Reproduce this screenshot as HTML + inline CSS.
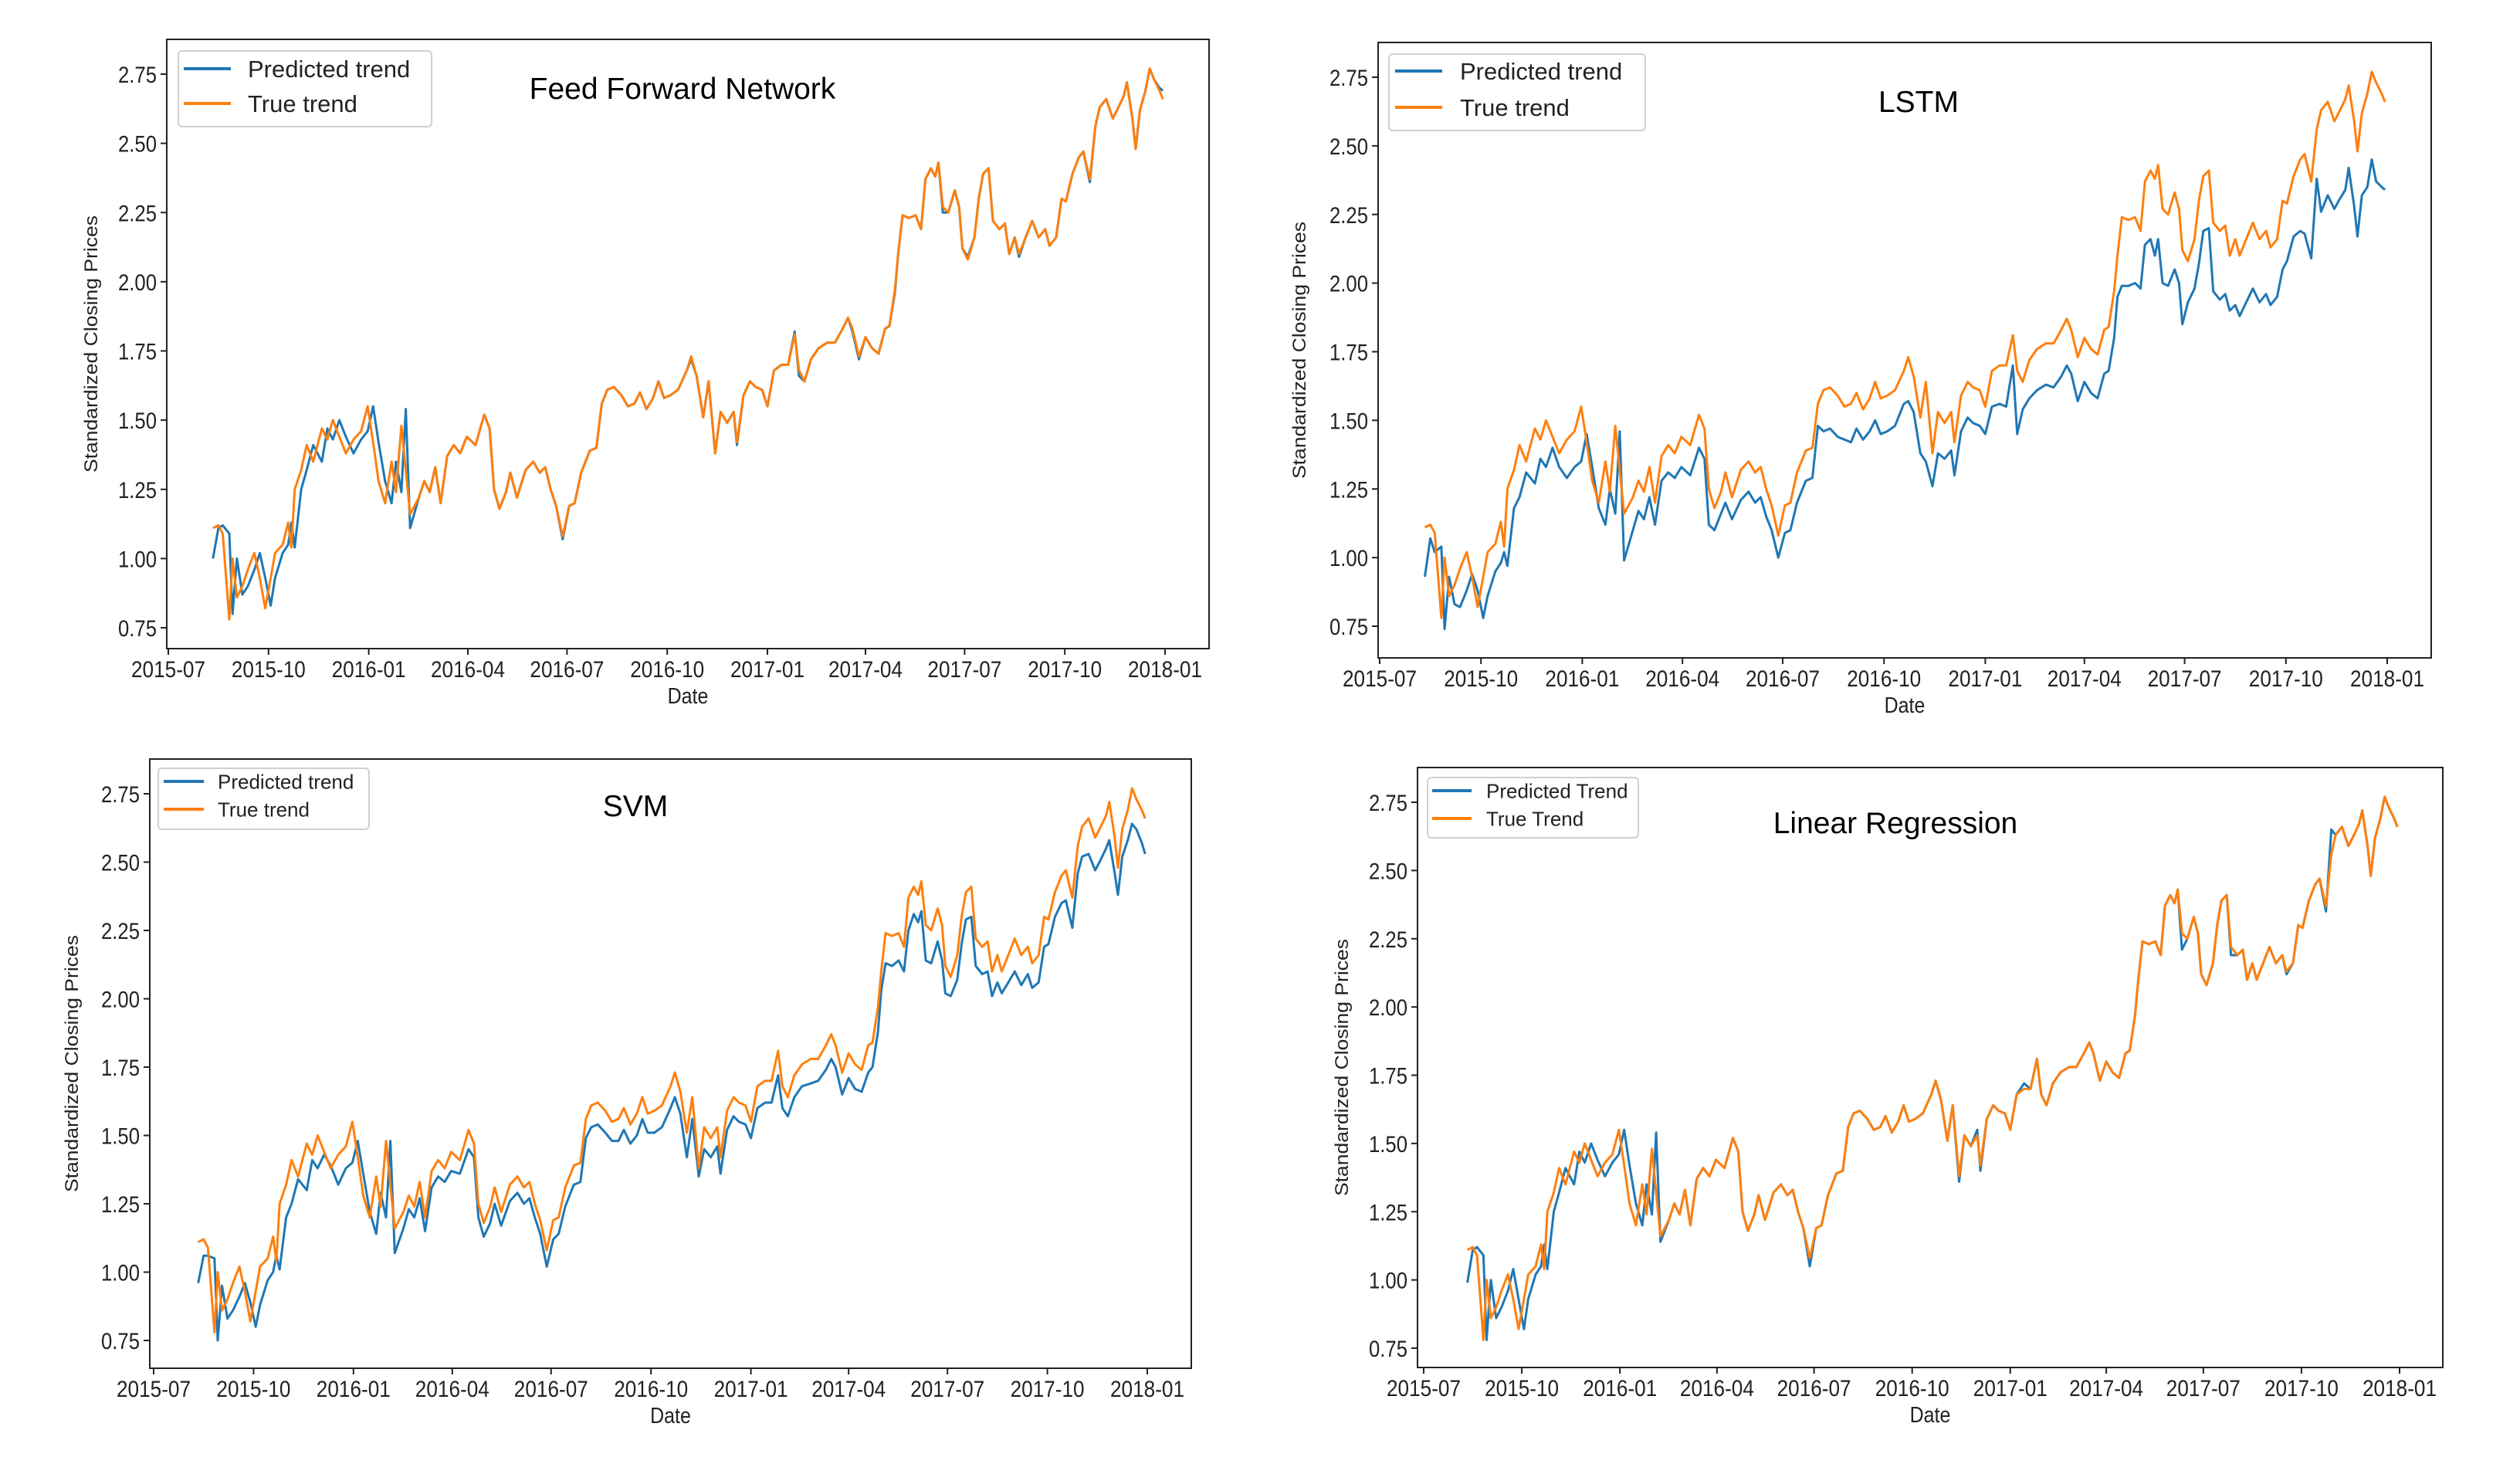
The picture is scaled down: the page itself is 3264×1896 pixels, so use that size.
<!DOCTYPE html>
<html><head><meta charset="utf-8"><style>
html,body{margin:0;padding:0;background:#fff;}
svg{display:block;font-family:"Liberation Sans",sans-serif;}
</style></head><body>
<svg id="chart" width="3264" height="1896" viewBox="0 0 3264 1896" xmlns="http://www.w3.org/2000/svg"></svg>
<script>
const days = [41,46,50,56,59,63,68,73,79,84,89,94,98,105,110,113,116,122,127,133,141,146,151,157,163,170,177,183,188,193,199,205,209,214,218,222,230,235,240,245,250,256,262,268,274,282,290,295,299,304,310,314,320,328,335,341,346,351,356,362,368,373,379,387,393,398,403,409,416,422,428,433,439,445,450,455,461,468,476,480,485,491,496,502,507,513,519,522,528,534,539,545,550,556,563,569,575,579,584,590,597,605,612,619,624,628,634,640,646,652,658,662,667,670,674,680,686,691,695,700,704,707,711,716,722,726,729,734,740,744,748,753,757,763,768,772,777,781,787,793,799,805,809,815,820,824,830,836,840,846,851,855,861,867,871,877,880,885,888,892,897,901,905,910,913];
const trueTrend = [1.11,1.12,1.09,0.78,1.00,0.86,0.90,0.96,1.02,0.93,0.82,0.93,1.02,1.05,1.13,1.04,1.25,1.32,1.41,1.35,1.47,1.43,1.50,1.44,1.38,1.43,1.46,1.55,1.42,1.28,1.20,1.35,1.24,1.48,1.32,1.16,1.22,1.28,1.24,1.33,1.20,1.37,1.41,1.38,1.44,1.41,1.52,1.47,1.25,1.18,1.24,1.31,1.22,1.32,1.35,1.31,1.33,1.25,1.19,1.08,1.19,1.20,1.31,1.39,1.40,1.56,1.61,1.62,1.59,1.55,1.56,1.60,1.54,1.58,1.64,1.58,1.59,1.61,1.68,1.73,1.66,1.51,1.64,1.38,1.53,1.49,1.53,1.42,1.59,1.64,1.62,1.61,1.55,1.68,1.70,1.70,1.81,1.68,1.64,1.72,1.76,1.78,1.78,1.83,1.87,1.83,1.73,1.80,1.76,1.74,1.83,1.84,1.97,2.10,2.24,2.23,2.24,2.19,2.37,2.41,2.38,2.43,2.27,2.25,2.33,2.27,2.12,2.08,2.16,2.30,2.39,2.41,2.22,2.19,2.21,2.10,2.16,2.10,2.16,2.22,2.16,2.19,2.13,2.16,2.30,2.29,2.39,2.45,2.47,2.37,2.56,2.63,2.66,2.59,2.62,2.67,2.72,2.59,2.48,2.62,2.69,2.77,2.73,2.69,2.66];
const predFFN = [1.00,1.11,1.12,1.09,0.80,1.00,0.87,0.90,0.96,1.02,0.93,0.83,0.93,1.02,1.05,1.13,1.04,1.25,1.32,1.41,1.35,1.47,1.43,1.50,1.44,1.38,1.43,1.46,1.55,1.42,1.28,1.20,1.35,1.24,1.54,1.11,1.22,1.28,1.24,1.33,1.20,1.37,1.41,1.38,1.44,1.41,1.52,1.47,1.25,1.18,1.24,1.31,1.22,1.32,1.35,1.31,1.33,1.25,1.19,1.07,1.19,1.20,1.31,1.39,1.40,1.56,1.61,1.62,1.59,1.55,1.56,1.60,1.54,1.58,1.64,1.58,1.59,1.61,1.68,1.72,1.66,1.51,1.64,1.38,1.53,1.49,1.53,1.41,1.59,1.64,1.62,1.61,1.55,1.68,1.70,1.70,1.82,1.66,1.64,1.72,1.76,1.78,1.78,1.83,1.87,1.82,1.72,1.80,1.76,1.74,1.83,1.84,1.96,2.10,2.24,2.23,2.24,2.19,2.37,2.41,2.38,2.43,2.25,2.25,2.33,2.27,2.12,2.09,2.16,2.30,2.39,2.41,2.22,2.19,2.21,2.10,2.16,2.09,2.16,2.22,2.16,2.19,2.13,2.16,2.30,2.29,2.39,2.45,2.47,2.36,2.56,2.63,2.66,2.59,2.62,2.67,2.72,2.59,2.48,2.62,2.69,2.77,2.73,2.70,2.69];
const predLSTM = [0.93,1.07,1.02,1.04,0.74,0.93,0.83,0.82,0.88,0.94,0.88,0.78,0.86,0.95,0.98,1.02,0.97,1.18,1.22,1.31,1.27,1.36,1.33,1.40,1.33,1.29,1.33,1.35,1.45,1.33,1.18,1.12,1.25,1.16,1.46,0.99,1.10,1.17,1.14,1.22,1.12,1.28,1.31,1.29,1.33,1.30,1.40,1.36,1.12,1.10,1.16,1.20,1.14,1.21,1.24,1.20,1.22,1.15,1.10,1.00,1.09,1.10,1.20,1.28,1.29,1.48,1.46,1.47,1.44,1.43,1.42,1.47,1.43,1.46,1.50,1.45,1.46,1.48,1.56,1.57,1.53,1.38,1.35,1.26,1.38,1.36,1.39,1.30,1.46,1.51,1.49,1.48,1.45,1.55,1.56,1.55,1.70,1.45,1.54,1.58,1.61,1.63,1.62,1.66,1.70,1.67,1.57,1.64,1.60,1.58,1.67,1.68,1.80,1.95,1.99,1.99,2.00,1.98,2.14,2.16,2.10,2.16,2.00,1.99,2.05,2.00,1.85,1.93,1.98,2.07,2.19,2.20,1.97,1.94,1.96,1.90,1.92,1.88,1.93,1.98,1.93,1.96,1.92,1.95,2.05,2.08,2.17,2.19,2.18,2.09,2.38,2.26,2.32,2.27,2.30,2.34,2.42,2.28,2.17,2.32,2.35,2.45,2.37,2.35,2.34];
const predSVM = [0.96,1.06,1.06,1.05,0.75,0.95,0.83,0.86,0.91,0.96,0.89,0.80,0.88,0.97,1.00,1.06,1.01,1.20,1.25,1.34,1.30,1.41,1.38,1.43,1.39,1.32,1.38,1.40,1.48,1.36,1.22,1.14,1.29,1.20,1.48,1.07,1.16,1.23,1.20,1.27,1.15,1.31,1.35,1.33,1.37,1.36,1.45,1.42,1.20,1.13,1.18,1.25,1.17,1.26,1.29,1.25,1.27,1.20,1.14,1.02,1.12,1.14,1.24,1.32,1.33,1.49,1.53,1.54,1.51,1.48,1.48,1.52,1.47,1.50,1.56,1.51,1.51,1.53,1.60,1.64,1.58,1.42,1.56,1.35,1.45,1.42,1.46,1.36,1.52,1.57,1.55,1.54,1.49,1.60,1.62,1.62,1.72,1.60,1.57,1.64,1.68,1.69,1.70,1.74,1.78,1.75,1.65,1.71,1.67,1.66,1.73,1.75,1.88,2.03,2.13,2.12,2.14,2.10,2.25,2.31,2.28,2.32,2.14,2.13,2.21,2.14,2.02,2.01,2.07,2.20,2.29,2.30,2.12,2.09,2.10,2.01,2.06,2.02,2.06,2.10,2.05,2.09,2.04,2.06,2.19,2.20,2.30,2.35,2.36,2.26,2.46,2.52,2.53,2.47,2.50,2.55,2.58,2.46,2.38,2.52,2.58,2.64,2.62,2.57,2.53];
const predLR = [0.99,1.11,1.12,1.09,0.78,1.00,0.86,0.90,0.96,1.04,0.93,0.82,0.93,1.02,1.05,1.13,1.04,1.25,1.32,1.41,1.35,1.47,1.43,1.50,1.44,1.38,1.43,1.46,1.55,1.42,1.28,1.20,1.35,1.24,1.54,1.14,1.22,1.28,1.24,1.33,1.20,1.37,1.41,1.38,1.44,1.41,1.52,1.47,1.25,1.18,1.24,1.31,1.22,1.32,1.35,1.31,1.33,1.25,1.19,1.05,1.19,1.20,1.31,1.39,1.40,1.56,1.61,1.62,1.59,1.55,1.56,1.60,1.54,1.58,1.64,1.58,1.59,1.61,1.68,1.73,1.66,1.51,1.64,1.36,1.53,1.49,1.55,1.40,1.59,1.64,1.62,1.61,1.55,1.68,1.72,1.70,1.81,1.68,1.64,1.72,1.76,1.78,1.78,1.83,1.87,1.83,1.73,1.80,1.76,1.74,1.83,1.84,1.97,2.10,2.24,2.23,2.24,2.19,2.37,2.41,2.38,2.43,2.21,2.25,2.33,2.27,2.12,2.08,2.16,2.30,2.39,2.41,2.19,2.19,2.21,2.10,2.16,2.10,2.16,2.22,2.16,2.19,2.12,2.16,2.30,2.29,2.39,2.45,2.47,2.35,2.65,2.63,2.66,2.59,2.62,2.67,2.72,2.59,2.48,2.62,2.69,2.77,2.73,2.69,2.66];
const xTickDays = [0,92,184,275,366,458,550,640,731,823,915];
const xTickLabels = ["2015-07","2015-10","2016-01","2016-04","2016-07","2016-10","2017-01","2017-04","2017-07","2017-10","2018-01"];
const yTicks = [0.75,1.00,1.25,1.50,1.75,2.00,2.25,2.50,2.75];

const panels = [
 {name:"ffn",title:"Feed Forward Network",pred:predFFN,l1:"Predicted trend",l2:"True trend",
  box:[216,51,1566,840],xp:[218,1509],yp:[813,96],title_xy:[884,128],leg:[231,66,559,164],legRows:[89,134],legLine:[238,299],legText:321,legFont:31,ylab:117},
 {name:"lstm",title:"LSTM",pred:predLSTM,l1:"Predicted trend",l2:"True trend",
  box:[1785,55,3149,852],xp:[1787,3092],yp:[811,100],title_xy:[2485,145],leg:[1799,70,2131,169],legRows:[92,139],legLine:[1807,1868],legText:1891,legFont:31,ylab:1682},
 {name:"svm",title:"SVM",pred:predSVM,l1:"Predicted trend",l2:"True trend",
  box:[194,983,1543,1772],xp:[199,1486],yp:[1736,1028],title_xy:[823,1057],leg:[205,995,478,1074],legRows:[1012,1048],legLine:[212,264],legText:282,legFont:26,ylab:92},
 {name:"linear-regression",title:"Linear Regression",pred:predLR,l1:"Predicted Trend",l2:"True Trend",
  box:[1836,994,3164,1771],xp:[1844,3108],yp:[1746,1039],title_xy:[2455,1079],leg:[1849,1007,2122,1085],legRows:[1024,1060],legLine:[1855,1906],legText:1925,legFont:26,ylab:1737}
];
const NS="http://www.w3.org/2000/svg";
const svg=document.getElementById('chart');
function mk(tag,attrs,parent){const e=document.createElementNS(NS,tag);for(const k in attrs)e.setAttribute(k,attrs[k]);(parent||svg).appendChild(e);return e;}

panels.forEach(p=>{
  const g=mk('g',{});
  
  
  const [bx0,by0,bx1,by1]=p.box;
  const xs=d=>p.xp[0]+(d-0)/(915-0)*(p.xp[1]-p.xp[0]);
  const ys=v=>p.yp[0]+(v-0.75)/(2.75-0.75)*(p.yp[1]-p.yp[0]);
  function line(vals,color,nm){
    let d='';
    const n=Math.min(vals.length,days.length);
    for(let i=0;i<n;i++){d+=(i?'L':'M')+xs(days[i]).toFixed(1)+','+ys(vals[i]).toFixed(1);}
    const el=mk('path',{d:d,fill:'none',stroke:color,'stroke-width':3,'stroke-linejoin':'round'},g);
    
    
  }
  line(p.pred,'#1f77b4',p.name+'-predicted-line');
  line(trueTrend,'#ff7f0e',p.name+'-true-line');
  const fr=mk('rect',{x:bx0,y:by0,width:bx1-bx0,height:by1-by0,fill:'none',stroke:'#222','stroke-width':2},g);
  
  
  xTickDays.forEach((d,i)=>{
    const x=xs(d);
    mk('line',{x1:x,x2:x,y1:by1,y2:by1+8,stroke:'#222','stroke-width':2},g);
    const t=mk('text',{transform:`translate(${x.toFixed(1)},${by1+37}) scale(1,1.2)`,'text-anchor':'middle','font-size':25,fill:'#222',textLength:96,lengthAdjust:'spacingAndGlyphs'},g);
    t.textContent=xTickLabels[i];
    
    
  });
  yTicks.forEach(v=>{
    const y=ys(v);
    mk('line',{x1:bx0-8,x2:bx0,y1:y,y2:y,stroke:'#222','stroke-width':2},g);
    const t=mk('text',{transform:`translate(${bx0-13},${(y+11).toFixed(1)}) scale(1,1.2)`,'text-anchor':'end','font-size':25,fill:'#222',textLength:50,lengthAdjust:'spacingAndGlyphs'},g);
    t.textContent=v.toFixed(2);
    
    
  });
  const xl=mk('text',{transform:`translate(${(bx0+bx1)/2},${by1+71}) scale(1,1.15)`,'text-anchor':'middle','font-size':25,fill:'#222'},g);
  xl.textContent='Date';
  
  
  const cy=(by0+by1)/2;
  const yl=mk('text',{transform:`translate(${p.ylab+9},${cy}) rotate(-90)`,'text-anchor':'middle','font-size':24,fill:'#222',textLength:333,lengthAdjust:'spacingAndGlyphs'},g);
  yl.textContent='Standardized Closing Prices';
  
  
  const ti=mk('text',{x:p.title_xy[0],y:p.title_xy[1],'text-anchor':'middle','font-size':39,fill:'#000'},g);
  ti.textContent=p.title;
  
  
  const lg=mk('g',{},g);
  
  
  const [lx0,ly0,lx1,ly1]=p.leg;
  mk('rect',{x:lx0,y:ly0,width:lx1-lx0,height:ly1-ly0,rx:5,fill:'#fff',stroke:'#d0d0d0','stroke-width':2},lg);
  [[p.l1,'#1f77b4'],[p.l2,'#ff7f0e']].forEach((e,i)=>{
    const ry=p.legRows[i];
    const ent=mk('g',{},lg);
    
    
    mk('line',{x1:p.legLine[0],x2:p.legLine[1],y1:ry,y2:ry,stroke:e[1],'stroke-width':4},ent);
    const t=mk('text',{x:p.legText,y:ry+p.legFont*0.36,'font-size':p.legFont,fill:'#222'},ent);
    t.textContent=e[0];
  });
});
</script>
</body></html>
